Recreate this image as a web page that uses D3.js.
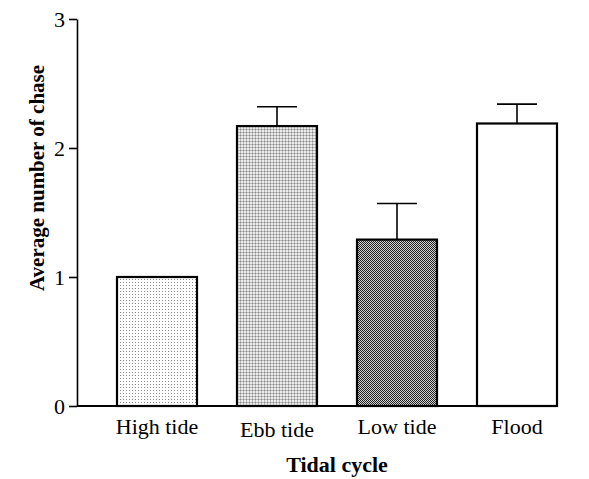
<!DOCTYPE html>
<html><head><meta charset="utf-8">
<script src="https://cdn.jsdelivr.net/npm/d3@7"></script>
<style>body{margin:0;background:#fff}</style>
</head><body>
<svg id="c" width="589" height="479"></svg>
<script>
const categories = ["High tide", "Ebb tide", "Low tide", "Flood"];
const means = [1.0, 2.17, 1.29, 2.19];
const errors = [0, 0.15, 0.28, 0.15];
const yTicks = [0, 1, 2, 3];
const patterns = ["dots", "grid", "checker", "none"];

const svg = d3.select("#c");
const axisLeftX = 77, axisRightX = 557, plotTop = 19, plotBase = 406;
const x = d3.scaleBand().domain(categories).range([axisLeftX, axisRightX + 40]).paddingInner(1/3).paddingOuter(1/3);
const y = d3.scaleLinear().domain([0, 3]).range([plotBase, plotTop]);

const defs = svg.append("defs");
const p1 = defs.append("pattern").attr("id","dots").attr("width",3).attr("height",3).attr("patternUnits","userSpaceOnUse");
p1.append("rect").attr("width",3).attr("height",3).attr("fill","#fff");
p1.append("rect").attr("width",1).attr("height",1).attr("fill","#8a8a8a");
const p2 = defs.append("pattern").attr("id","grid").attr("width",3).attr("height",3).attr("patternUnits","userSpaceOnUse");
p2.append("rect").attr("width",3).attr("height",3).attr("fill","#ececec");
p2.append("rect").attr("width",3).attr("height",1).attr("fill","#b8b8b8");
p2.append("rect").attr("width",1).attr("height",3).attr("fill","#b8b8b8");
p2.append("rect").attr("width",1).attr("height",1).attr("fill","#888");
const p3 = defs.append("pattern").attr("id","checker").attr("width",2).attr("height",2).attr("patternUnits","userSpaceOnUse");
p3.append("rect").attr("width",2).attr("height",2).attr("fill","#d0d0d0");
p3.append("rect").attr("width",1).attr("height",1).attr("fill","#222");
p3.append("rect").attr("x",1).attr("y",1).attr("width",1).attr("height",1).attr("fill","#222");

svg.selectAll(".bar").data(categories).join("rect")
  .attr("x", d => x(d)).attr("width", x.bandwidth())
  .attr("y", (d,i) => y(means[i])).attr("height", (d,i) => y(0) - y(means[i]))
  .attr("fill", (d,i) => patterns[i] === "none" ? "#fff" : `url(#${patterns[i]})`)
  .attr("stroke", "#000").attr("stroke-width", 2.2);

const eg = svg.append("g").attr("stroke","#000").attr("stroke-width",1.6);
categories.forEach((d,i) => {
  if (!errors[i]) return;
  const cx = x(d) + x.bandwidth()/2;
  eg.append("line").attr("x1",cx).attr("x2",cx).attr("y1",y(means[i])).attr("y2",y(means[i]+errors[i]));
  eg.append("line").attr("x1",cx - x.bandwidth()/4).attr("x2",cx + x.bandwidth()/4)
    .attr("y1",y(means[i]+errors[i])).attr("y2",y(means[i]+errors[i]));
});

const ya = svg.append("g").attr("transform",`translate(${axisLeftX},0)`)
  .call(d3.axisLeft(y).tickValues(yTicks).tickFormat(d3.format("d")).tickSize(8).tickSizeOuter(0).tickPadding(4));
ya.select(".domain").attr("stroke-width",1.6);
ya.selectAll(".tick line").attr("stroke-width",1.6);
ya.selectAll("text").attr("font-family","Liberation Serif").attr("font-size",22).attr("fill","#000");

const xa = svg.append("g").attr("transform",`translate(0,${y(0)})`)
  .call(d3.axisBottom(x).tickSize(0).tickPadding(14).tickSizeOuter(0));
xa.select(".domain").attr("d", `M${axisLeftX},0H${axisRightX}`).attr("stroke-width",1.8);
xa.selectAll("text").attr("font-family","Liberation Serif").attr("font-size",22).attr("fill","#000")
  .attr("dy", (d,i) => i === 1 ? "0.78em" : "0.65em");

svg.append("text").attr("x",337).attr("y",472).attr("text-anchor","middle")
  .attr("font-family","Liberation Serif").attr("font-weight","bold").attr("font-size",22)
  .text("Tidal cycle");
svg.append("text").attr("transform","translate(44,178) rotate(-90)").attr("text-anchor","middle")
  .attr("font-family","Liberation Serif").attr("font-weight","bold").attr("font-size",21)
  .text("Average number of chase");
</script>
</body></html>
